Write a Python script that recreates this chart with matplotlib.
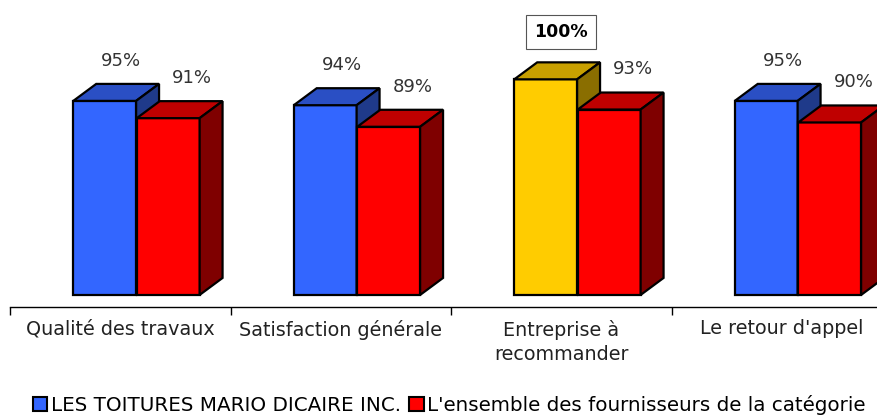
import matplotlib.pyplot as plt
from matplotlib.patches import Polygon, Patch

categories = ['Qualité des travaux', 'Satisfaction générale', 'Entreprise à\nrecommander', "Le retour d'appel"]
company = [95, 94, 100, 95]
category_avg = [91, 89, 93, 90]
series_names = ['LES TOITURES MARIO DICAIRE INC.', "L'ensemble des fournisseurs de la catégorie"]

plt.rcParams['font.family'] = ['DejaVu Sans']

# 3D-ish bar colours: front, top, side
blue = ('#3366FF', '#2A4FC4', '#1F3A8A')
gold = ('#FFCC00', '#C8A000', '#8A6E00')
red = ('#FF0000', '#BF0000', '#7F0000')

fig = plt.figure(figsize=(8.78, 4.18), dpi=100)
ax = fig.add_axes([10 / 878, 1 - 307 / 418, 882 / 878, 307 / 418])
ax.set_xlim(-0.5, 3.5)
ax.set_ylim(47.2, 118.4)

base = 50
w = 0.285
dx, dy = 0.104, 3.94
z = [2]


def bar3d(x0, val, cols):
    front, top, side = cols
    ax.bar(x0, val - base, width=w, bottom=base, align='edge', color=front,
           edgecolor='black', linewidth=1.6, zorder=z[0])
    ax.add_patch(Polygon([(x0, val), (x0 + dx, val + dy), (x0 + w + dx, val + dy), (x0 + w, val)],
                         closed=True, facecolor=top, edgecolor='black', linewidth=1.6, zorder=z[0]))
    ax.add_patch(Polygon([(x0 + w, base), (x0 + w + dx, base + dy), (x0 + w + dx, val + dy), (x0 + w, val)],
                         closed=True, facecolor=side, edgecolor='black', linewidth=1.6, zorder=z[0]))
    z[0] += 1


top_val = max(company)
for i, (a, b) in enumerate(zip(company, category_avg)):
    cols = gold if a == top_val else blue
    bar3d(i - 0.213, a, cols)
    bar3d(i + 0.075, b, red)
    if a == top_val:
        ax.text(i, a + 11, f'{a}%', ha='center', va='center', fontsize=12.5, fontweight='bold',
                color='black', bbox=dict(facecolor='white', edgecolor='#555555', linewidth=0.8, pad=6))
    else:
        ax.text(i + 0.005, a + 9.3, f'{a}%', ha='center', va='center', fontsize=13, color='#333333')
    ax.text(i + 0.327, b + 9.3, f'{b}%', ha='center', va='center', fontsize=13, color='#333333')

for s in ['left', 'top', 'right']:
    ax.spines[s].set_visible(False)
ax.spines['bottom'].set_linewidth(1.0)
ax.set_yticks([])
ax.set_xticks(range(len(categories)))
ax.set_xticklabels(categories, fontsize=13.8, color='#222222')
ax.tick_params(axis='x', which='major', length=0, pad=9)
ax.set_xticks([i - 0.5 for i in range(len(categories) + 1)], minor=True)
ax.tick_params(axis='x', which='minor', length=6, width=1.0, direction='out')
for t in ax.get_xticklabels():
    t.set_linespacing(1.4)

handles = [Patch(facecolor=blue[0], edgecolor='black', linewidth=1.5),
           Patch(facecolor=red[0], edgecolor='black', linewidth=1.5)]
fig.legend(handles, series_names, loc='center left', bbox_to_anchor=(33 / 878, 1 - 405 / 418),
           ncol=2, frameon=False, fontsize=14.3, handlelength=0.72, handleheight=0.72,
           handletextpad=0.2, columnspacing=0.4, borderaxespad=0, borderpad=0)

fig.savefig('out.png', dpi=100)
